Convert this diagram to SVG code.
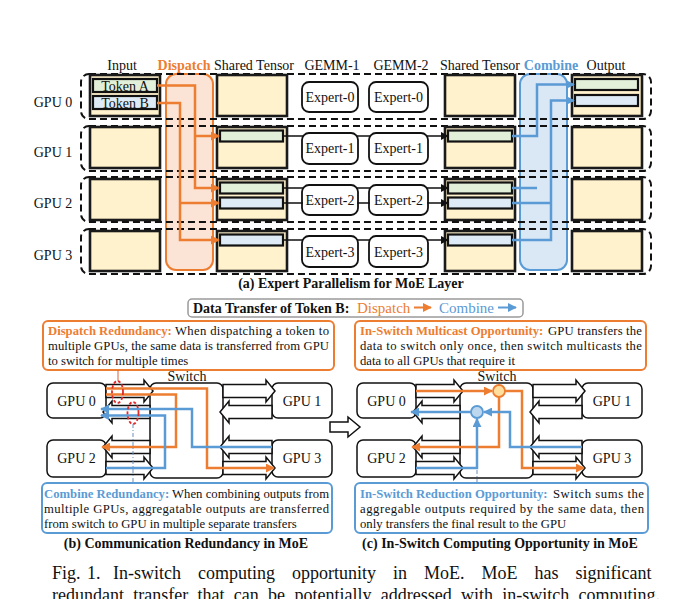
<svg xmlns="http://www.w3.org/2000/svg" width="674" height="599" viewBox="0 0 674 599">
<defs>
<style>
.t{font-family:"Liberation Serif","Times New Roman",serif;font-size:14px;fill:#111}
.b{font-weight:bold}
.s13{font-size:12.7px}
.cO{fill:#ED7D31}
.cB{fill:#5B9BD5}
.box{fill:#FFF2CC;stroke:#1a1a1a;stroke-width:2.6}
.row{fill:none;stroke:#111;stroke-width:2;stroke-dasharray:7 4}
.bg{fill:#E2F0D9;stroke:#111;stroke-width:2.2}
.bb{fill:#DEEBF7;stroke:#111;stroke-width:2.2}
.ex{fill:#fff;stroke:#111;stroke-width:1.8}
.ln{fill:none;stroke:#111;stroke-width:1.5}
.or{fill:none;stroke:#ED7D31;stroke-width:2.5}
.bl{fill:none;stroke:#5B9BD5;stroke-width:2.5}
.nd{fill:#fff;stroke:#111;stroke-width:1.5}
.ha{fill:#fff;stroke:#111;stroke-width:1.5}
.desc{fill:#fff;stroke-width:2}
.cap{font-size:18px}
</style>
<marker id="mo" viewBox="0 0 10 10" refX="9" refY="5" markerWidth="9" markerHeight="9" markerUnits="userSpaceOnUse" orient="auto"><path d="M0,0 L10,5 L0,10 z" fill="#ED7D31"/></marker>
<marker id="mb" viewBox="0 0 10 10" refX="9" refY="5" markerWidth="9" markerHeight="9" markerUnits="userSpaceOnUse" orient="auto"><path d="M0,0 L10,5 L0,10 z" fill="#5B9BD5"/></marker>
<marker id="mk" viewBox="0 0 10 10" refX="9" refY="5" markerWidth="8" markerHeight="8" markerUnits="userSpaceOnUse" orient="auto"><path d="M0,0 L10,5 L0,10 z" fill="#111"/></marker>
</defs>
<rect width="674" height="599" fill="#fff"/>

<!-- (a) headers -->
<g id="headers">
<text class="t" x="122" y="70" text-anchor="middle">Input</text>
<text class="t b cO" x="184" y="70" text-anchor="middle">Dispatch</text>
<text class="t" x="254" y="70" text-anchor="middle">Shared Tensor</text>
<text class="t" x="332" y="70" text-anchor="middle">GEMM-1</text>
<text class="t" x="401" y="70" text-anchor="middle">GEMM-2</text>
<text class="t" x="480" y="70" text-anchor="middle">Shared Tensor</text>
<text class="t b cB" x="551" y="70" text-anchor="middle">Combine</text>
<text class="t" x="606" y="70" text-anchor="middle">Output</text>
<text class="t" x="53" y="107" text-anchor="middle">GPU 0</text>
<text class="t" x="53" y="157" text-anchor="middle">GPU 1</text>
<text class="t" x="53" y="208" text-anchor="middle">GPU 2</text>
<text class="t" x="53" y="260" text-anchor="middle">GPU 3</text>
</g>

<g id="dispatch-stage"><rect x="166" y="74" width="47" height="196" rx="10" fill="#FBE3D5" stroke="#ED7D31" stroke-width="2"/></g>
<g id="combine-stage"><rect x="520" y="74" width="47" height="196" rx="10" fill="#DAE7F5" stroke="#5B9BD5" stroke-width="2"/></g>

<g id="gpu-rows">
<rect class="row" x="81" y="74" width="570" height="45" rx="8"/>
<rect class="row" x="81" y="126" width="570" height="45" rx="8"/>
<rect class="row" x="81" y="177" width="570" height="45" rx="8"/>
<rect class="row" x="81" y="229" width="570" height="45" rx="8"/>
</g>

<g id="input-tensors">
<rect class="box" x="90" y="75" width="70" height="41"/>
<rect class="box" x="90" y="127" width="70" height="41"/>
<rect class="box" x="90" y="179" width="70" height="41"/>
<rect class="box" x="90" y="231" width="70" height="40"/>
<rect class="bg" x="93" y="79" width="64" height="13"/>
<text class="t" x="125" y="90.5" text-anchor="middle">Token A</text>
<rect class="bb" x="93" y="96" width="64" height="13"/>
<text class="t" x="125" y="107.5" text-anchor="middle">Token B</text>
</g>

<g id="shared-tensors-1">
<rect class="box" x="217" y="75" width="70" height="41"/>
<rect class="box" x="217" y="127" width="70" height="41"/>
<rect class="box" x="217" y="179" width="70" height="41"/>
<rect class="box" x="217" y="231" width="70" height="40"/>
<rect class="bg" x="220" y="130.5" width="63" height="11"/>
<rect class="bg" x="220" y="182.5" width="63" height="11"/>
<rect class="bb" x="220" y="197.5" width="63" height="11"/>
<rect class="bb" x="220" y="234.5" width="63" height="11"/>
</g>

<g id="shared-tensors-2">
<rect class="box" x="445" y="75" width="70" height="41"/>
<rect class="box" x="445" y="127" width="70" height="41"/>
<rect class="box" x="445" y="179" width="70" height="41"/>
<rect class="box" x="445" y="231" width="70" height="40"/>
<rect class="bg" x="448" y="130.5" width="64" height="11"/>
<rect class="bg" x="448" y="182.5" width="64" height="11"/>
<rect class="bb" x="448" y="197.5" width="64" height="11"/>
<rect class="bb" x="448" y="234.5" width="64" height="11"/>
</g>

<g id="outputs">
<rect class="box" x="572" y="75" width="70" height="41"/>
<rect class="box" x="572" y="127" width="70" height="41"/>
<rect class="box" x="572" y="179" width="70" height="41"/>
<rect class="box" x="572" y="231" width="70" height="40"/>
<rect class="bg" x="575" y="79" width="63" height="11"/>
<rect class="bb" x="575" y="95" width="63" height="11"/>
</g>

<g id="experts">
<rect class="ex" x="302" y="82" width="56" height="30" rx="7"/><text class="t" x="330" y="102" text-anchor="middle">Expert-0</text>
<rect class="ex" x="369" y="82" width="59" height="30" rx="7"/><text class="t" x="398.5" y="102" text-anchor="middle">Expert-0</text>
<rect class="ex" x="302" y="133" width="56" height="31" rx="7"/><text class="t" x="330" y="153" text-anchor="middle">Expert-1</text>
<rect class="ex" x="369" y="133" width="59" height="31" rx="7"/><text class="t" x="398.5" y="153" text-anchor="middle">Expert-1</text>
<rect class="ex" x="302" y="185" width="56" height="30" rx="7"/><text class="t" x="330" y="205" text-anchor="middle">Expert-2</text>
<rect class="ex" x="369" y="185" width="59" height="30" rx="7"/><text class="t" x="398.5" y="205" text-anchor="middle">Expert-2</text>
<rect class="ex" x="302" y="236" width="56" height="31" rx="7"/><text class="t" x="330" y="257" text-anchor="middle">Expert-3</text>
<rect class="ex" x="369" y="236" width="59" height="31" rx="7"/><text class="t" x="398.5" y="257" text-anchor="middle">Expert-3</text>
</g>

<g id="connectors-a">
<path class="ln" d="M283,136 H303 M357,136 H370 M427,136 H448" marker-end="url(#mk)"/>
<path class="ln" d="M283,188 H303 M357,188 H370 M427,188 H448" marker-end="url(#mk)"/>
<path class="ln" d="M283,203 H303 M357,203 H370 M427,203 H448" marker-end="url(#mk)"/>
<path class="ln" d="M283,240 H303 M357,240 H370 M427,240 H448" marker-end="url(#mk)"/>
<path class="or" d="M157,85.5 H195 V188 H219" marker-end="url(#mo)"/>
<path class="or" d="M195,136 H219" marker-end="url(#mo)"/>
<path class="or" d="M157,103 H180 V240 H219" marker-end="url(#mo)"/>
<path class="or" d="M180,203 H219" marker-end="url(#mo)"/>
<path class="bl" d="M512,136 H537 V84.5 H574" marker-end="url(#mb)"/>
<path class="bl" d="M512,188 H537"/>
<path class="bl" d="M512,240 H551 V100.5 H574" marker-end="url(#mb)"/>
<path class="bl" d="M512,203 H551"/>
</g>

<text class="t b" x="351" y="288" text-anchor="middle">(a) Expert Parallelism for MoE Layer</text>

<!-- legend -->
<g id="legend">
<rect x="188" y="299" width="335" height="18" rx="4" fill="#fff" stroke="#9a9a9a" stroke-width="1.5"/>
<text class="t b" x="193" y="312.5">Data Transfer of Token B:</text>
<text class="t cO" x="357" y="312.5" style="font-size:15px">Dispatch</text>
<text class="t cB" x="439" y="312.5" style="font-size:15px">Combine</text>
<path d="M414,307.5 H431" stroke="#ED7D31" stroke-width="2" marker-end="url(#mo)"/>
<path d="M498,307.5 H516" stroke="#5B9BD5" stroke-width="2" marker-end="url(#mb)"/>
</g>

<!-- description boxes -->
<g id="dispatch-redundancy">
<rect class="desc" x="43" y="321" width="291" height="49" rx="5" stroke="#ED7D31"/>
<text class="t s13 b cO" x="48" y="334.5">Dispatch Redundancy:</text>
<text class="t s13" x="175" y="334.5" textLength="154" lengthAdjust="spacing">When dispatching a token to</text>
<text class="t s13" x="48" y="349.5" textLength="281" lengthAdjust="spacing">multiple GPUs, the same data is transferred from GPU</text>
<text class="t s13" x="48" y="364.5">to switch for multiple times</text>
</g>
<g id="multicast-opportunity">
<rect class="desc" x="355" y="321" width="291" height="49" rx="5" stroke="#ED7D31"/>
<text class="t s13 b cO" x="360" y="334.5">In-Switch Multicast Opportunity:</text>
<text class="t s13" x="548" y="334.5" textLength="94" lengthAdjust="spacing">GPU transfers the</text>
<text class="t s13" x="360" y="349.5" textLength="282" lengthAdjust="spacing">data to switch only once, then switch multicasts the</text>
<text class="t s13" x="360" y="364.5">data to all GPUs that require it</text>
</g>
<g id="combine-redundancy">
<rect class="desc" x="42" y="483" width="290" height="50" rx="5" stroke="#5B9BD5"/>
<text class="t s13 b cB" x="44" y="497.5">Combine Redundancy:</text>
<text class="t s13" x="172" y="497.5" textLength="157" lengthAdjust="spacing">When combining outputs from</text>
<text class="t s13" x="44" y="512.5" textLength="285" lengthAdjust="spacing">multiple GPUs, aggregatable outputs are transferred</text>
<text class="t s13" x="44" y="527.5">from switch to GPU in multiple separate transfers</text>
</g>
<g id="reduction-opportunity">
<rect class="desc" x="355" y="483" width="293" height="50" rx="5" stroke="#5B9BD5"/>
<text class="t s13 b cB" x="360" y="497.5">In-Switch Reduction Opportunity:</text>
<text class="t s13" x="553" y="497.5" textLength="91" lengthAdjust="spacing">Switch sums the</text>
<text class="t s13" x="360" y="512.5" textLength="284" lengthAdjust="spacing">aggregable outputs required by the same data, then</text>
<text class="t s13" x="360" y="527.5">only transfers the final result to the GPU</text>
</g>

<!-- (b) -->
<g id="b-switch"><rect class="nd" x="150" y="383" width="73" height="95" rx="6"/><text class="t" x="187" y="381" text-anchor="middle">Switch</text></g>
<g id="b-gpu0"><rect class="nd" x="47" y="383" width="59" height="35" rx="6"/><text class="t" x="76.5" y="406" text-anchor="middle">GPU 0</text></g>
<g id="b-gpu1"><rect class="nd" x="272" y="383" width="60" height="35" rx="6"/><text class="t" x="302" y="406" text-anchor="middle">GPU 1</text></g>
<g id="b-gpu2"><rect class="nd" x="47" y="440" width="59" height="37" rx="6"/><text class="t" x="76.5" y="463" text-anchor="middle">GPU 2</text></g>
<g id="b-gpu3"><rect class="nd" x="272" y="440" width="60" height="37" rx="6"/><text class="t" x="302" y="463" text-anchor="middle">GPU 3</text></g>

<!-- (c) -->
<g id="c-switch"><rect class="nd" x="460" y="383" width="73" height="95" rx="6"/><text class="t" x="497" y="381" text-anchor="middle">Switch</text></g>
<g id="c-gpu0"><rect class="nd" x="357" y="383" width="59" height="35" rx="6"/><text class="t" x="386.5" y="406" text-anchor="middle">GPU 0</text></g>
<g id="c-gpu1"><rect class="nd" x="582" y="383" width="60" height="35" rx="6"/><text class="t" x="612" y="406" text-anchor="middle">GPU 1</text></g>
<g id="c-gpu2"><rect class="nd" x="357" y="440" width="59" height="37" rx="6"/><text class="t" x="386.5" y="463" text-anchor="middle">GPU 2</text></g>
<g id="c-gpu3"><rect class="nd" x="582" y="440" width="60" height="37" rx="6"/><text class="t" x="612" y="463" text-anchor="middle">GPU 3</text></g>

<g id="links">
<g id="links-b">
<polygon class="ha" points="106,384.5 144,384.5 144,380 153,391 144,402 144,397.5 106,397.5"/>
<polygon class="ha" points="150,405.5 112,405.5 112,401 103,412 112,423 112,418.5 150,418.5"/>
<polygon class="ha" points="150,440.5 112,440.5 112,436 103,447 112,458 112,453.5 150,453.5"/>
<polygon class="ha" points="106,461.5 144,461.5 144,457 153,468 144,479 144,474.5 106,474.5"/>
<polygon class="ha" points="223,384.5 266,384.5 266,380 275,391 266,402 266,397.5 223,397.5"/>
<polygon class="ha" points="272,405.5 229,405.5 229,401 220,412 229,423 229,418.5 272,418.5"/>
<polygon class="ha" points="272,440.5 229,440.5 229,436 220,447 229,458 229,453.5 272,453.5"/>
<polygon class="ha" points="223,461.5 266,461.5 266,457 275,468 266,479 266,474.5 223,474.5"/>
</g>
<g id="links-c">
<polygon class="ha" points="416,384.5 454,384.5 454,380 463,391 454,402 454,397.5 416,397.5"/>
<polygon class="ha" points="460,405.5 422,405.5 422,401 413,412 422,423 422,418.5 460,418.5"/>
<polygon class="ha" points="460,440.5 422,440.5 422,436 413,447 422,458 422,453.5 460,453.5"/>
<polygon class="ha" points="416,461.5 454,461.5 454,457 463,468 454,479 454,474.5 416,474.5"/>
<polygon class="ha" points="533,384.5 576,384.5 576,380 585,391 576,402 576,397.5 533,397.5"/>
<polygon class="ha" points="582,405.5 539,405.5 539,401 530,412 539,423 539,418.5 582,418.5"/>
<polygon class="ha" points="582,440.5 539,440.5 539,436 530,447 539,458 539,453.5 582,453.5"/>
<polygon class="ha" points="533,461.5 576,461.5 576,457 585,468 576,479 576,474.5 533,474.5"/>
</g>
<polygon id="b-to-c" class="ha" points="330,422 348,422 348,417 360,427 348,437 348,432 330,432"/>

<path class="or" d="M106,388.5 H207 V468 H274" marker-end="url(#mo)"/>
<path class="or" d="M106,394.5 H176 V447 H102" marker-end="url(#mo)"/>
<path class="bl" d="M272,447 H192 V409 H101" marker-end="url(#mb)"/>
<path class="bl" d="M106,468 H165 V415.5 H101" marker-end="url(#mb)"/>
<ellipse cx="117.5" cy="392" rx="5.5" ry="11" fill="none" stroke="#E02A2A" stroke-width="1.8" stroke-dasharray="3 2"/>
<ellipse cx="133" cy="413" rx="5.5" ry="11" fill="none" stroke="#E02A2A" stroke-width="1.8" stroke-dasharray="3 2"/>
<path d="M118,370 V381" stroke="#D9603A" stroke-width="1"/>
<path d="M133,424 V483" stroke="#6A8FBF" stroke-width="1" stroke-dasharray="4 2 1 2"/>

<path class="or" d="M416,391 H492" marker-end="url(#mo)"/>
<path class="or" d="M505,391 H522 V468 H584" marker-end="url(#mo)"/>
<path class="or" d="M499,397 V447 H412" marker-end="url(#mo)"/>
<path class="bl" d="M582,447 H510 V412 H484" marker-end="url(#mb)"/>
<path class="bl" d="M471,412 H411" marker-end="url(#mb)"/>
<path class="bl" d="M416,468 H477 V419" marker-end="url(#mb)"/>
<path d="M477,470 V483" stroke="#6A8FBF" stroke-width="1" stroke-dasharray="4 2 1 2"/>
<circle cx="499" cy="391" r="6" fill="#FFDFA0" stroke="#ED7D31" stroke-width="1.8"/>
<circle cx="477" cy="412" r="6" fill="#BDD7EE" stroke="#5B9BD5" stroke-width="1.8"/>
</g>

<text class="t b" x="186" y="548" text-anchor="middle">(b) Communication Redundancy in MoE</text>
<text class="t b" x="500" y="548" text-anchor="middle">(c) In-Switch Computing Opportunity in MoE</text>

<text class="t cap" x="52" y="579" word-spacing="2">Fig. 1.</text>
<text class="t cap" x="113" y="579" word-spacing="12.5">In-switch computing opportunity in MoE. MoE has significant</text>
<text class="t cap" x="52" y="601" word-spacing="4.8">redundant transfer that can be potentially addressed with in-switch computing.</text>
</svg>
